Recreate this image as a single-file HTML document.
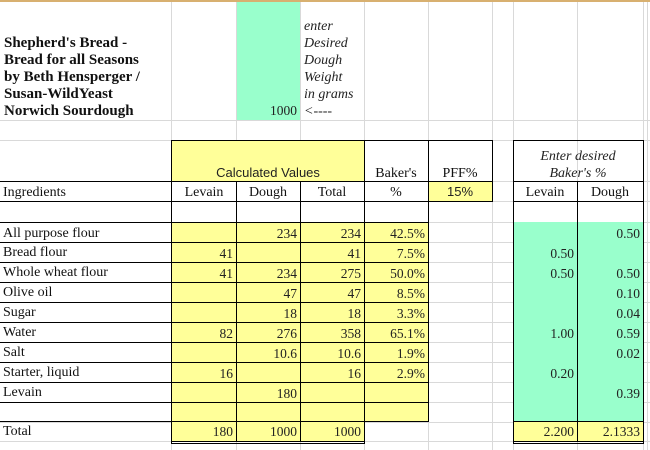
<!DOCTYPE html>
<html><head><meta charset="utf-8"><style>
html,body{margin:0;padding:0;background:#fff;}
svg{display:block;}
.t{font-family:"Liberation Serif",serif;font-size:14px;fill:#111;}
.b{font-family:"Liberation Serif",serif;font-size:15px;font-weight:bold;fill:#111;}
.s{font-family:"Liberation Sans",sans-serif;font-size:13px;fill:#222;}
.i{font-family:"Liberation Serif",serif;font-size:14px;font-style:italic;fill:#222;}
.n{font-family:"Liberation Serif",serif;font-size:13.5px;fill:#222;text-anchor:end;}
.c{text-anchor:middle;}
</style></head><body>
<svg width="650" height="450" xmlns="http://www.w3.org/2000/svg">
<g stroke="#d9d9d9" stroke-width="1">
<line x1="171.5" y1="2" x2="171.5" y2="450"/><line x1="236.5" y1="2" x2="236.5" y2="450"/>
<line x1="300.5" y1="2" x2="300.5" y2="450"/><line x1="364.5" y1="2" x2="364.5" y2="450"/>
<line x1="428.5" y1="2" x2="428.5" y2="450"/><line x1="492.5" y1="2" x2="492.5" y2="450"/>
<line x1="513.5" y1="2" x2="513.5" y2="450"/><line x1="577.5" y1="2" x2="577.5" y2="450"/>
<line x1="643.5" y1="2" x2="643.5" y2="450"/><line x1="647.5" y1="2" x2="647.5" y2="450"/>
<line x1="0" y1="120.5" x2="650" y2="120.5"/><line x1="0" y1="140.5" x2="650" y2="140.5"/>
<line x1="0" y1="181.5" x2="650" y2="181.5"/><line x1="0" y1="201.5" x2="650" y2="201.5"/>
<line x1="0" y1="222.5" x2="650" y2="222.5"/><line x1="0" y1="242.5" x2="650" y2="242.5"/>
<line x1="0" y1="262.5" x2="650" y2="262.5"/><line x1="0" y1="282.5" x2="650" y2="282.5"/>
<line x1="0" y1="302.5" x2="650" y2="302.5"/><line x1="0" y1="322.5" x2="650" y2="322.5"/>
<line x1="0" y1="342.5" x2="650" y2="342.5"/><line x1="0" y1="362.5" x2="650" y2="362.5"/>
<line x1="0" y1="382.5" x2="650" y2="382.5"/><line x1="0" y1="402.5" x2="650" y2="402.5"/>
<line x1="0" y1="422.5" x2="650" y2="422.5"/><line x1="0" y1="441.5" x2="650" y2="441.5"/>
</g>
<rect x="0" y="0" width="650" height="2" fill="#d8b070"/>
<rect x="0" y="2" width="171" height="118" fill="#fff"/>
<rect x="237" y="2" width="63" height="118" fill="#99ffcc"/>
<rect x="301" y="2" width="63" height="118" fill="#fff"/>
<rect x="171" y="140" width="193" height="41" fill="#ffff99"/>
<rect x="428" y="181" width="64" height="20" fill="#ffff99"/>
<rect x="171" y="222" width="257" height="200" fill="#ffff99"/>
<rect x="171" y="422" width="193" height="19" fill="#ffff99"/>
<rect x="513" y="222" width="130" height="200" fill="#99ffcc"/>
<rect x="513" y="422" width="130" height="19" fill="#ffff99"/>
<g stroke="#000" stroke-width="1">
<line x1="171" y1="140.5" x2="493" y2="140.5"/><line x1="513" y1="140.5" x2="644" y2="140.5"/>
<line x1="0" y1="181.5" x2="493" y2="181.5"/><line x1="513" y1="181.5" x2="644" y2="181.5"/>
<line x1="0" y1="201.5" x2="493" y2="201.5"/><line x1="513" y1="201.5" x2="644" y2="201.5"/>
<line x1="0" y1="222.5" x2="429" y2="222.5"/><line x1="0" y1="242.5" x2="429" y2="242.5"/>
<line x1="0" y1="262.5" x2="429" y2="262.5"/><line x1="0" y1="282.5" x2="429" y2="282.5"/>
<line x1="0" y1="302.5" x2="429" y2="302.5"/><line x1="0" y1="322.5" x2="429" y2="322.5"/>
<line x1="0" y1="342.5" x2="429" y2="342.5"/><line x1="0" y1="362.5" x2="429" y2="362.5"/>
<line x1="0" y1="382.5" x2="429" y2="382.5"/><line x1="0" y1="402.5" x2="429" y2="402.5"/>
<line x1="0" y1="421.5" x2="429" y2="421.5"/><line x1="513" y1="421.5" x2="644" y2="421.5"/>
<line x1="171" y1="441.5" x2="365" y2="441.5"/><line x1="171" y1="443.5" x2="365" y2="443.5"/>
<line x1="513" y1="441.5" x2="644" y2="441.5"/><line x1="513" y1="443.5" x2="644" y2="443.5"/>
<line x1="171.5" y1="140" x2="171.5" y2="444"/><line x1="236.5" y1="181" x2="236.5" y2="442"/>
<line x1="300.5" y1="181" x2="300.5" y2="442"/><line x1="364.5" y1="140" x2="364.5" y2="444"/>
<line x1="428.5" y1="140" x2="428.5" y2="422"/><line x1="492.5" y1="140" x2="492.5" y2="202"/>
<line x1="513.5" y1="140" x2="513.5" y2="444"/><line x1="577.5" y1="181" x2="577.5" y2="442"/>
<line x1="643.5" y1="140" x2="643.5" y2="444"/>
</g>
<text class="b" x="4" y="47">Shepherd's Bread -</text>
<text class="b" x="4" y="64">Bread for all Seasons</text>
<text class="b" x="4" y="81">by Beth Hensperger /</text>
<text class="b" x="4" y="98">Susan-WildYeast</text>
<text class="b" x="4" y="115">Norwich Sourdough</text>
<text class="n" x="297" y="115">1000</text>
<text class="i" x="304" y="30">enter</text>
<text class="i" x="304" y="47">Desired</text>
<text class="i" x="304" y="64">Dough</text>
<text class="i" x="304" y="81">Weight</text>
<text class="i" x="304" y="98">in grams</text>
<text class="i" x="304" y="115">&lt;----</text>
<text class="s c" x="268" y="177">Calculated Values</text>
<text class="t c" x="396" y="177">Baker's</text>
<text class="t c" x="460" y="177">PFF%</text>
<text class="i c" x="578" y="160">Enter desired</text>
<text class="i c" x="578" y="177">Baker's %</text>
<text class="t" x="3" y="196">Ingredients</text>
<text class="t c" x="204" y="196">Levain</text>
<text class="t c" x="268" y="196">Dough</text>
<text class="t c" x="332" y="196">Total</text>
<text class="t c" x="396" y="196">%</text>
<text class="s c" x="460" y="196">15%</text>
<text class="t c" x="545" y="196">Levain</text>
<text class="t c" x="610" y="196">Dough</text>
<g class="t">
<text x="3" y="237">All purpose flour</text>
<text x="3" y="256">Bread flour</text>
<text x="3" y="276">Whole wheat flour</text>
<text x="3" y="296">Olive oil</text>
<text x="3" y="316">Sugar</text>
<text x="3" y="336">Water</text>
<text x="3" y="356">Salt</text>
<text x="3" y="376">Starter, liquid</text>
<text x="3" y="396">Levain</text>
<text x="3" y="435">Total</text>
</g>
<text class="n" x="297" y="238">234</text><text class="n" x="361" y="238">234</text><text class="n" x="425" y="238">42.5%</text><text class="n" x="640" y="238">0.50</text>
<text class="n" x="233" y="258">41</text><text class="n" x="361" y="258">41</text><text class="n" x="425" y="258">7.5%</text><text class="n" x="574" y="258">0.50</text>
<text class="n" x="233" y="278">41</text><text class="n" x="297" y="278">234</text><text class="n" x="361" y="278">275</text><text class="n" x="425" y="278">50.0%</text><text class="n" x="574" y="278">0.50</text><text class="n" x="640" y="278">0.50</text>
<text class="n" x="297" y="298">47</text><text class="n" x="361" y="298">47</text><text class="n" x="425" y="298">8.5%</text><text class="n" x="640" y="298">0.10</text>
<text class="n" x="297" y="318">18</text><text class="n" x="361" y="318">18</text><text class="n" x="425" y="318">3.3%</text><text class="n" x="640" y="318">0.04</text>
<text class="n" x="233" y="338">82</text><text class="n" x="297" y="338">276</text><text class="n" x="361" y="338">358</text><text class="n" x="425" y="338">65.1%</text><text class="n" x="574" y="338">1.00</text><text class="n" x="640" y="338">0.59</text>
<text class="n" x="297" y="358">10.6</text><text class="n" x="361" y="358">10.6</text><text class="n" x="425" y="358">1.9%</text><text class="n" x="640" y="358">0.02</text>
<text class="n" x="233" y="378">16</text><text class="n" x="361" y="378">16</text><text class="n" x="425" y="378">2.9%</text><text class="n" x="574" y="378">0.20</text>
<text class="n" x="297" y="398">180</text><text class="n" x="640" y="398">0.39</text>
<text class="n" x="233" y="436">180</text><text class="n" x="297" y="436">1000</text><text class="n" x="361" y="436">1000</text><text class="n" x="574" y="436">2.200</text><text class="n" x="640" y="436">2.1333</text>
</svg>
</body></html>
